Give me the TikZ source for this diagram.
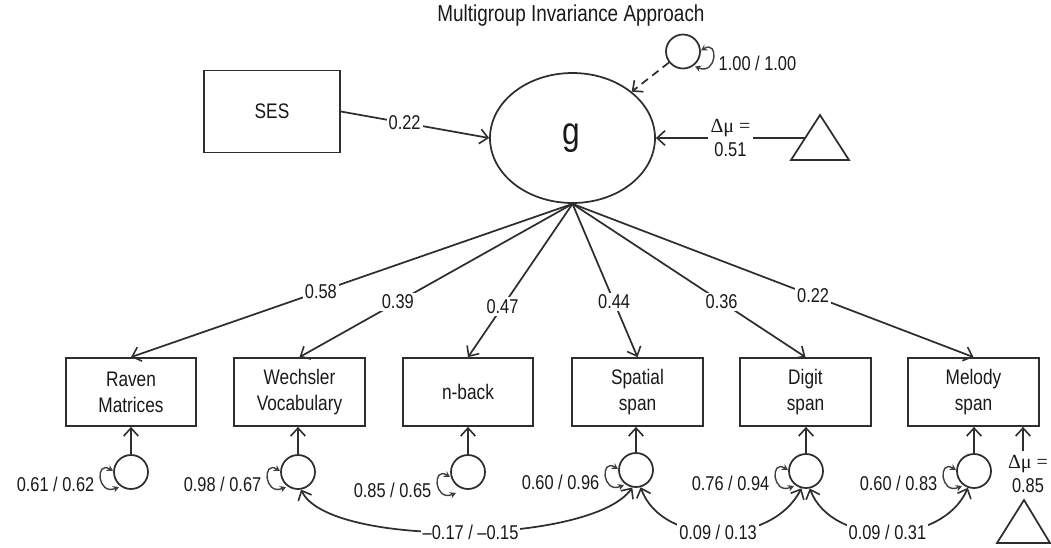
\documentclass[tikz,border=0pt]{standalone}
\usepackage{fontspec}
\setmainfont{Liberation Sans}[FakeStretch=0.82]
\newfontfamily\grk{Liberation Serif}
\usetikzlibrary{arrows.meta,shapes.geometric}
\begin{document}
\begin{tikzpicture}[x=0.75pt,y=-0.75pt,
  ink/.style={draw=black!82, line width=1.3pt},
  num/.style={font=\fontsize{15}{18}\selectfont, text=black!90},
  lbl/.style={num, fill=white, inner sep=1.5pt},
  obs/.style={ink, rectangle, minimum width=98pt, minimum height=51pt, align=center,
    font=\fontsize{15.8}{19.5}\selectfont, text=black!90, inner sep=0pt},
  err/.style={ink, circle, minimum size=25.5pt, inner sep=0pt},
  barb/.tip={Straight Barb[length=6pt,width=11pt,line width=1.2pt]},
  arr/.style={ink, -barb},
  cov/.style={ink, barb-barb},
  vloop/.style={draw=black!75, line width=1.05pt,
    {Stealth[length=4.5pt,width=5pt]}-{Stealth[length=4.5pt,width=5pt]}},
]
\useasboundingbox (0,0) rectangle (1051,547);

% title
\node[font=\fontsize{17.3}{20}\selectfont, text=black!90] (title) at (571,16) {Multigroup Invariance Approach};

% latent factor and its predictors
\node[ink, ellipse, minimum width=123.75pt, minimum height=97.5pt, inner sep=0pt] (g) at (572.5,138) {};
\node[font=\fontsize{29}{30}\selectfont, text=black!90] (gl) at (571,138) {g};
\node[obs, minimum width=102pt, minimum height=61.5pt] (ses) at (272,111.5) {SES};
\draw[arr] (ses.east) -- node[lbl, pos=0.43] (w0) {0.22} (g.west);

% factor disturbance
\node[err] (d0) at (683,51.5) {};
\draw[arr, dashed, dash pattern=on 6pt off 4pt] (d0) -- (g);
\draw[vloop] ([shift={(18,-1)}]d0.center) .. controls ([shift={(36,-12)}]d0.center) and ([shift={(34,24)}]d0.center) .. ([shift={(12,15)}]d0.center);
\node[num, anchor=west] (v0) at ([shift={(31,12)}]d0.center) {1.00 / 1.00};

% mean of the factor
\draw[ink] (820,115) -- (849,160) -- (791,160) -- cycle;
\coordinate (t1) at (805,138);
\draw[arr] (t1) -- node[lbl, pos=0.5, align=center, inner sep=2pt] (m1) {{\grk Δμ =}\\0.51} (g.east);

% observed indicators
\node[obs] (b1) at (131,392) {Raven\\Matrices};
\node[obs] (b2) at (299.5,392) {Wechsler\\Vocabulary};
\node[obs] (b3) at (468,392) {n-back};
\node[obs] (b4) at (637.5,392) {Spatial\\span};
\node[obs] (b5) at (805.5,392) {Digit\\span};
\node[obs] (b6) at (973.5,392) {Melody\\span};

% factor loadings
\draw[arr] (g.south) -- node[lbl, pos=0.57] {0.58} (b1.north);
\draw[arr] (g.south) -- node[lbl, pos=0.64] {0.39} (b2.north);
\draw[arr] (g.south) -- node[lbl, pos=0.67] {0.47} (b3.north);
\draw[arr] (g.south) -- node[lbl, pos=0.64] {0.44} (b4.north);
\draw[arr] (g.south) -- node[lbl, pos=0.64] {0.36} (b5.north);
\draw[arr] (g.south) -- node[lbl, pos=0.60] {0.22} (b6.north);

% residuals
\node[err] (e1) at (131,472) {};
\node[err] (e2) at (298,472) {};
\node[err] (e3) at (468,472) {};
\node[err] (e4) at (636,470) {};
\node[err] (e5) at (806,471) {};
\node[err] (e6) at (974,471) {};
\foreach \e/\b in {e1/b1,e2/b2,e3/b3,e4/b4,e5/b5,e6/b6}
  \draw[arr] (\e.north) -- (\e.north |- \b.south);

% residual variances
\foreach \e/\dy/\txt in {e1/0/{0.61 / 0.62}, e2/0/{0.98 / 0.67}, e3/6/{0.85 / 0.65},
                          e4/0/{0.60 / 0.96}, e5/0/{0.76 / 0.94}, e6/0/{0.60 / 0.83}}{
  \draw[vloop] ([shift={(-18,-1+\dy)}]\e.center) .. controls ([shift={(-36,-12+\dy)}]\e.center) and ([shift={(-34,24+\dy)}]\e.center) .. ([shift={(-12,15+\dy)}]\e.center);
  \node[num, anchor=east] (v\e) at ([shift={(-32,12+\dy)}]\e.center) {\txt};
}

% mean of melody span
\node[num, align=center, inner sep=1pt] (m2) at (1028,474) {{\grk Δμ =}\\0.85};
\coordinate (m2top) at (1023,451);
\draw[arr] (m2top) -- (m2top |- b6.south);
\draw[ink] (1024,500) -- (1050,543) -- (997,543) -- cycle;

% residual covariances
\draw[cov] (e2.280) .. controls (328,548) and (592,545) .. node[lbl, pos=0.52] (c1) {–0.17 / –0.15} (e4.258);
\draw[cov] (e4.285) .. controls (662,547) and (772,547) .. node[lbl, pos=0.5] (c2) {0.09 / 0.13} (e5.255);
\draw[cov] (e5.282) .. controls (832,547) and (942,547) .. node[lbl, pos=0.5] (c3) {0.09 / 0.31} (e6.250);
\end{tikzpicture}
\end{document}
